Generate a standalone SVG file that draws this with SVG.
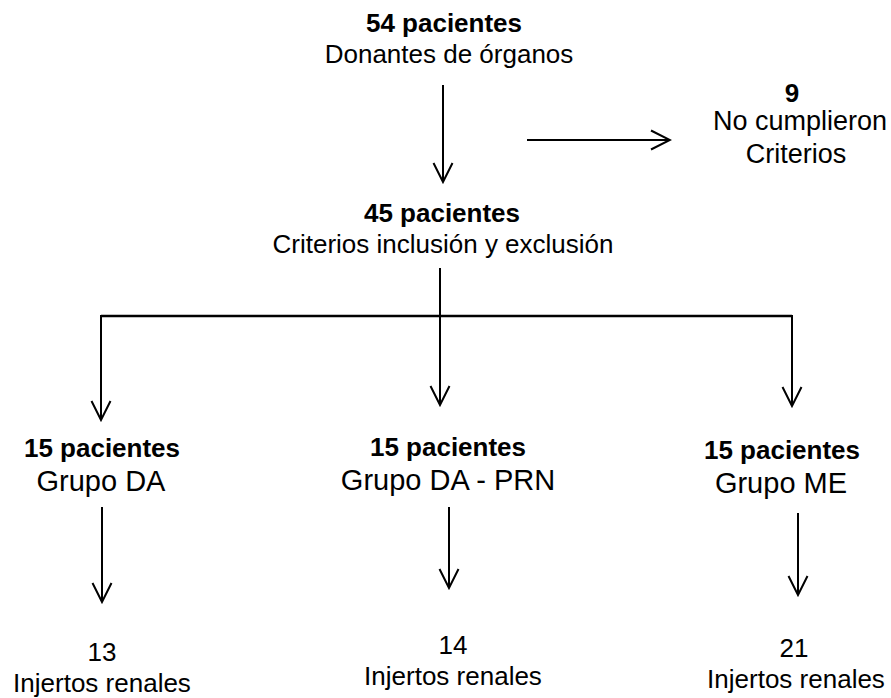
<svg xmlns="http://www.w3.org/2000/svg" width="891" height="698" viewBox="0 0 891 698">
<style>
text{font-family:"Liberation Sans",Arial,sans-serif;fill:#000;text-anchor:middle}
.b{font-weight:bold;font-size:26px}
.r{font-size:26px}
.g{font-size:29px}
.n{font-size:27px}
.c line{stroke:#000;stroke-width:2;fill:none}
</style>
<defs>
<marker id="ah" viewBox="-22 -12 24 24" markerWidth="24" markerHeight="24" refX="0" refY="0" orient="auto" markerUnits="userSpaceOnUse">
<path d="M-19,-9.5 L0,0 L-19,9.5" fill="none" stroke="#000" stroke-width="2"/>
</marker>
</defs>
<rect width="891" height="698" fill="#fff"/>
<g id="connectors" class="c">
<line x1="443" y1="85" x2="443" y2="182" marker-end="url(#ah)"/>
<line x1="527" y1="140" x2="670" y2="140" marker-end="url(#ah)"/>
<line x1="440" y1="268" x2="440" y2="405" marker-end="url(#ah)"/>
<line x1="101" y1="316" x2="792" y2="316" style="stroke-width:2.6"/>
<line x1="101" y1="315" x2="101" y2="420" marker-end="url(#ah)"/>
<line x1="792" y1="315" x2="792" y2="406" marker-end="url(#ah)"/>
<line x1="102" y1="507" x2="102" y2="602" marker-end="url(#ah)"/>
<line x1="449" y1="507" x2="449" y2="588" marker-end="url(#ah)"/>
<line x1="798" y1="513" x2="798" y2="595" marker-end="url(#ah)"/>
</g>
<g id="n54">
<text class="b" x="444" y="32">54 pacientes</text>
<text class="r" x="449" y="63">Donantes de órganos</text>
</g>
<g id="n9">
<text class="b" x="792" y="102">9</text>
<text class="n" x="800" y="130">No cumplieron</text>
<text class="n" x="796" y="163">Criterios</text>
</g>
<g id="n45">
<text class="b" x="442" y="222">45 pacientes</text>
<text class="r" x="443" y="253">Criterios inclusión y exclusión</text>
</g>
<g id="nDA">
<text class="b" x="102" y="457">15 pacientes</text>
<text class="g" x="101" y="491">Grupo DA</text>
</g>
<g id="nDAPRN">
<text class="b" x="448" y="456">15 pacientes</text>
<text class="g" x="448" y="490">Grupo DA - PRN</text>
</g>
<g id="nME">
<text class="b" x="782" y="459">15 pacientes</text>
<text class="g" x="781" y="493">Grupo ME</text>
</g>
<g id="r13">
<text class="r" x="102" y="661">13</text>
<text class="r" x="102" y="692">Injertos renales</text>
</g>
<g id="r14">
<text class="r" x="453" y="654">14</text>
<text class="r" x="453" y="685">Injertos renales</text>
</g>
<g id="r21">
<text class="r" x="794" y="657">21</text>
<text class="r" x="796" y="688">Injertos renales</text>
</g>
</svg>
